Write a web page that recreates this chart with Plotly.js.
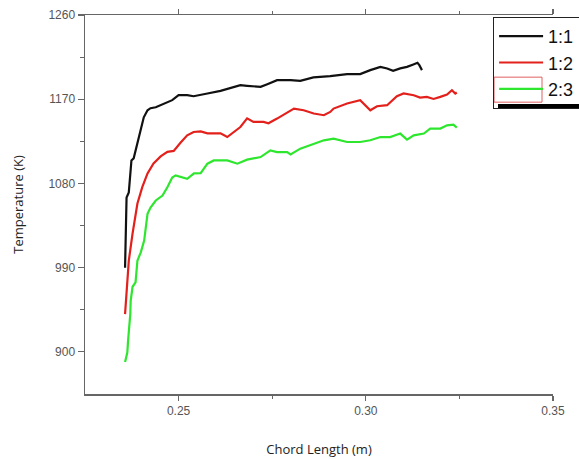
<!DOCTYPE html>
<html>
<head>
<meta charset="utf-8">
<script src="https://cdn.plot.ly/plotly-3.0.1.min.js"></script>
<style>html,body{margin:0;padding:0;background:#fff;}#chart{width:579px;height:459px;}</style>
</head>
<body>
<div id="chart"></div>
<script>
// Series labels
const seriesNames = ["1:1", "1:2", "2:3"];

// Chord length (m) and temperature (K)
const x11 = [0.2357,0.2359,0.2361,0.2367,0.2374,0.2380,0.2387,0.2396,0.2407,0.2417,0.2425,0.2439,0.2452,0.2470,0.2483,0.2500,0.2523,0.2540,0.2559,0.2577,0.2612,0.2647,0.2665,0.2683,0.2719,0.2737,0.2763,0.2799,0.2825,0.2860,0.2905,0.2950,0.2985,0.3012,0.3039,0.3057,0.3073,0.3092,0.3110,0.3127,0.3138,0.3143,0.3150];
const t11 = [990,1015.7,1065,1070.4,1104.6,1106.8,1118.6,1133.6,1150.7,1158.2,1160.4,1161.4,1163.6,1166.8,1169,1174.3,1174.3,1173.2,1174.3,1176.1,1178.9,1182.5,1185,1184.3,1183.2,1186.1,1190.4,1190.4,1189.6,1193.3,1194.6,1196.8,1196.8,1201.1,1204.6,1202.9,1200.3,1202.9,1204.6,1207.2,1208.9,1206.4,1201.1];

const x12 = [0.2357,0.2361,0.2367,0.2377,0.2390,0.2403,0.2417,0.2433,0.2452,0.2470,0.2487,0.2505,0.2523,0.2540,0.2559,0.2577,0.2612,0.2630,0.2647,0.2665,0.2683,0.2700,0.2727,0.2740,0.2763,0.2790,0.2808,0.2834,0.2861,0.2888,0.2905,0.2914,0.2950,0.2985,0.3003,0.3012,0.3030,0.3057,0.3083,0.3101,0.3128,0.3145,0.3163,0.3181,0.3199,0.3217,0.3230,0.3239,0.3243];
const t12 = [940.4,965.4,997.5,1026.4,1058.6,1076.0,1090.7,1101.4,1108.9,1113.8,1114.8,1123.4,1131.4,1135,1135.7,1133.6,1133.6,1129.6,1135,1140.3,1149.6,1145.7,1145.7,1144.3,1149.3,1156.1,1160,1158.2,1154.7,1152.9,1156.4,1160,1165.4,1168.9,1161.8,1158.2,1162.5,1163.6,1173.2,1176.1,1174.3,1171.8,1172.5,1170.3,1172.5,1175,1179.6,1176.1,1177.2];

const x23 = [0.2357,0.2363,0.2365,0.2367,0.2371,0.2372,0.2377,0.2385,0.2390,0.2399,0.2408,0.2417,0.2425,0.2439,0.2457,0.2470,0.2483,0.2492,0.2505,0.2523,0.2541,0.2559,0.2577,0.2594,0.2630,0.2657,0.2683,0.2719,0.2745,0.2763,0.2790,0.2799,0.2825,0.2861,0.2888,0.2914,0.2950,0.2985,0.3012,0.3039,0.3065,0.3092,0.3110,0.3128,0.3155,0.3172,0.3199,0.3217,0.3234,0.3243];
const t23 = [889.3,899.3,911.8,919.3,940.7,954.6,969.6,974.3,997.5,1006.4,1018.9,1047.5,1054.3,1061.8,1067.1,1076,1086.4,1088.6,1086.8,1085,1090.7,1091.0,1101.1,1104.6,1104.6,1101.1,1105.4,1108.2,1115.4,1113.5,1113.5,1111.1,1117.2,1122.5,1126.1,1127.9,1124.3,1124.3,1126.1,1129.6,1129.6,1133.3,1126.8,1131.4,1133.3,1138.6,1138.6,1142.1,1142.9,1139.7];

// Axis ticks
const xTicks = [0.25, 0.30, 0.35];
const xTickText = ["0.25", "0.30", "0.35"];
const yTicks = [900, 990, 1080, 1170, 1260];
const yTickText = ["900", "990", "1080", "1170", "1260"];

const colors = ["#111111", "#e3201b", "#2ee62e"];

const traces = [
  {x: x11, y: t11, name: seriesNames[0]},
  {x: x12, y: t12, name: seriesNames[1]},
  {x: x23, y: t23, name: seriesNames[2]}
].map((t, i) => Object.assign(t, {
  type: "scatter", mode: "lines",
  line: {color: colors[i], width: 2.2}
}));

const axisCol = "#666666";
const tickFont = {family: "Liberation Sans, Arial, sans-serif", size: 12, color: "#555555"};

const layout = {
  width: 579, height: 459,
  paper_bgcolor: "#ffffff", plot_bgcolor: "#ffffff",
  margin: {l: 85, r: 26, t: 15, b: 65, autoexpand: false},
  showlegend: true,
  legend: {
    x: 0.872, y: 0.995, xanchor: "left", yanchor: "top",
    bgcolor: "rgba(255,255,255,0)", bordercolor: "#222222", borderwidth: 1,
    font: {family: "Liberation Sans, Arial, sans-serif", size: 18, color: "#111111"},
    itemwidth: 44, tracegroupgap: 0
  },
  xaxis: {
    range: [0.225, 0.35], tickvals: xTicks, ticktext: xTickText,
    showgrid: false, zeroline: false, showline: true, mirror: "ticks",
    linecolor: axisCol, linewidth: 1.5,
    ticks: "outside", ticklen: 5, tickcolor: axisCol, tickwidth: 1.2,
    minor: {tickvals: [0.275, 0.325], ticks: "outside", ticklen: 3, tickcolor: axisCol},
    tickfont: tickFont,
    title: {text: "Chord Length (m)", font: {family: "Open Sans, sans-serif", size: 13, color: "#222222"}, standoff: 28},
    automargin: false
  },
  yaxis: {
    range: [855, 1260], tickvals: yTicks, ticktext: yTickText,
    showgrid: false, zeroline: false, showline: true, linecolor: axisCol, linewidth: 1.5,
    ticks: "outside", ticklen: 6, tickcolor: axisCol, tickwidth: 1.2,
    minor: {tickvals: [945, 1035, 1125, 1215], ticks: "outside", ticklen: 4, tickcolor: axisCol},
    tickfont: tickFont,
    title: {text: "Temperature (K)", font: {family: "Open Sans, sans-serif", size: 13, color: "#222222"}, standoff: 22},
    automargin: false
  },
  shapes: [
    {type: "rect", xref: "paper", yref: "paper", x0: 0.8825, x1: 1.1, y0: 0.7546, y1: 0.765,
     fillcolor: "#000000", line: {width: 0}, layer: "above"},
    {type: "rect", xref: "paper", yref: "paper", x0: 0.874, x1: 0.9765, y0: 0.770, y1: 0.836,
     fillcolor: "rgba(0,0,0,0)", line: {color: "#e06060", width: 1}, layer: "above"}
  ]
};

Plotly.newPlot("chart", traces, layout, {displayModeBar: false, staticPlot: true});
</script>
</body>
</html>
